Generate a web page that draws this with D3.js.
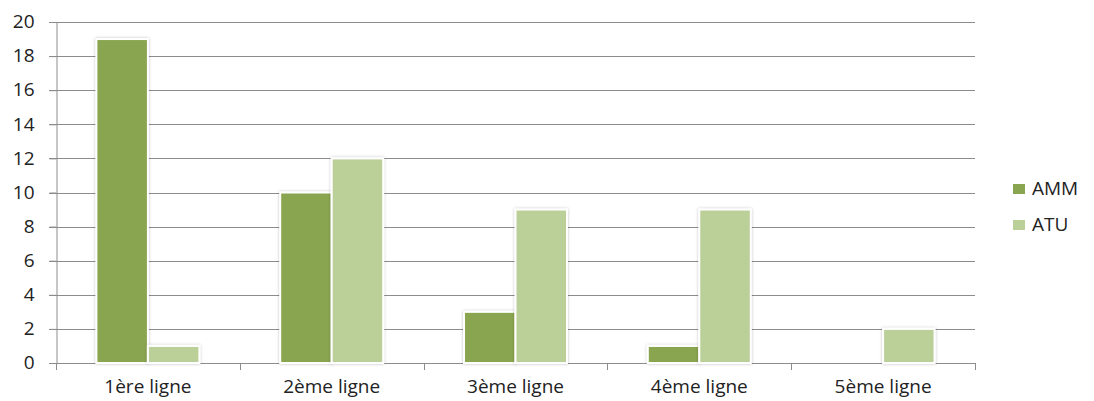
<!DOCTYPE html>
<html><head><meta charset="utf-8">
<script src="https://cdn.jsdelivr.net/npm/d3@7"></script>
<style>body{margin:0;background:#fff}svg{display:block}text{font-family:"Open Sans","Noto Sans",sans-serif;fill:#222}</style>
</head><body>
<svg id="c" width="1094" height="401"></svg>
<script>
const categories = ["1ère ligne","2ème ligne","3ème ligne","4ème ligne","5ème ligne"];
const seriesNames = ["AMM","ATU"];
const ammValues = [19,10,3,1,0];
const atuValues = [1,12,9,9,2];
const yTicks = [0,2,4,6,8,10,12,14,16,18,20];
const colors = ["#8aa550","#bbcf98"];

(function(){
const svg = d3.select("#c");
const mL = 56, mR = 975, mT = 22, mB = 363;
const x0 = d3.scaleBand().domain(categories).range([mL,mR]).padding(0);
const x1 = d3.scaleBand().domain(seriesNames).range([0,x0.bandwidth()]).paddingInner(0).paddingOuter(0.785);
const y = d3.scaleLinear().domain([0,20]).range([mB,mT]);

// gridlines
svg.append("g").selectAll("line").data(yTicks.filter(d=>d>0)).join("line")
  .attr("x1",mL-7).attr("x2",mR).attr("y1",d=>Math.round(y(d))+0.5).attr("y2",d=>Math.round(y(d))+0.5)
  .attr("stroke","#8c8c8c").attr("stroke-width",1);

// y axis
const ya = svg.append("g").attr("transform",`translate(${mL+0.5},0)`)
  .call(d3.axisLeft(y).tickValues(yTicks).tickSize(7).tickPadding(15));
ya.select(".domain").attr("stroke","#8c8c8c");
ya.selectAll(".tick line").attr("stroke","#8c8c8c");
ya.selectAll("text").style("font-size","19px").attr("fill","#222").attr("dy","0.3em");

// x axis
const xa = svg.append("g").attr("transform",`translate(0,${mB})`)
  .call(d3.axisBottom(x0).tickSize(0).tickPadding(17));
xa.select(".domain").remove();
svg.append("line").attr("x1",mL-7).attr("x2",mR).attr("y1",mB+0.5).attr("y2",mB+0.5)
  .attr("stroke","#8c8c8c");
const bounds = categories.map(c=>x0(c)).concat([mR]);
svg.append("g").selectAll("line").data(bounds).join("line")
  .attr("x1",d=>Math.round(d)+0.5).attr("x2",d=>Math.round(d)+0.5).attr("y1",mB).attr("y2",mB+7)
  .attr("stroke","#8c8c8c");
xa.selectAll("text").style("font-size","19px").attr("fill","#222");

// shadow filter
const defs = svg.append("defs");
const f = defs.append("filter").attr("id","sh").attr("x","-20%").attr("y","-20%").attr("width","140%").attr("height","140%");
f.append("feDropShadow").attr("dx",0).attr("dy",0).attr("stdDeviation",1.5).attr("flood-color","#000").attr("flood-opacity",0.25);

const data = categories.map((c,i)=>({c, vals:[ammValues[i],atuValues[i]]}));
const g = svg.append("g").selectAll("g").data(data).join("g").attr("transform",d=>`translate(${x0(d.c)},0)`);
g.selectAll("rect").data(d=>d.vals.map((v,j)=>({s:seriesNames[j],v,j})).filter(d=>d.v>0)).join("rect")
  .attr("x",d=>x1(d.s)).attr("width",x1.bandwidth())
  .attr("y",d=>y(d.v)).attr("height",d=>y(0)-y(d.v))
  .attr("fill",d=>colors[d.j]).attr("stroke","#fff").attr("stroke-width",2)
  .attr("filter","url(#sh)");

// legend
const lg = svg.append("g").selectAll("g").data(seriesNames).join("g")
  .attr("transform",(d,i)=>`translate(1013,${184+i*36})`);
lg.append("rect").attr("width",12).attr("height",10).attr("fill",(d,i)=>colors[i]);
lg.append("text").attr("x",19).attr("y",11).style("font-size","19px").text(d=>d);
})();
</script>
</body></html>
